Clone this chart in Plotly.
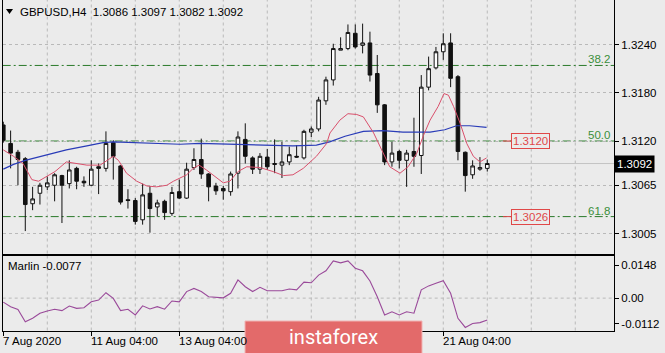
import plotly.graph_objects as go

W, H = 665, 353
BG = "#ebebeb"

# ---------------- data ----------------
bars = list(range(67))
opens = [1.3140, 1.3117, 1.3106, 1.3098, 1.3042, 1.3055, 1.3063, 1.3065, 1.3077, 1.3067,
         1.3086, 1.3070, 1.3065, 1.3088, 1.3086, 1.3118, 1.3089, 1.3047, 1.3046, 1.3022,
         1.3055, 1.3038, 1.3045, 1.3030, 1.3057, 1.3049, 1.3087, 1.3097, 1.3079, 1.3064,
         1.3061, 1.3057, 1.3080, 1.3122, 1.3099, 1.3085, 1.3100, 1.3092, 1.3090, 1.3094,
         1.3101, 1.3099, 1.3131, 1.3135, 1.3170, 1.3196, 1.3233, 1.3235, 1.3254, 1.3239,
         1.3242, 1.3204, 1.3165, 1.3094, 1.3107, 1.3096, 1.3107, 1.3102, 1.3187, 1.3211,
         1.3231, 1.3242, 1.3200, 1.3106, 1.3078, 1.3085, 1.3086]
highs = [1.3144, 1.3133, 1.3109, 1.3100, 1.3063, 1.3068, 1.3076, 1.3080, 1.3078, 1.3096,
         1.3088, 1.3076, 1.3096, 1.3092, 1.3132, 1.3121, 1.3090, 1.3060, 1.3049, 1.3067,
         1.3064, 1.3047, 1.3047, 1.3063, 1.3072, 1.3093, 1.3111, 1.3123, 1.3080, 1.3068,
         1.3064, 1.3082, 1.3132, 1.3142, 1.3101, 1.3105, 1.3110, 1.3122, 1.3119, 1.3113,
         1.3115, 1.3134, 1.3138, 1.3175, 1.3200, 1.3241, 1.3249, 1.3265, 1.3265, 1.3266,
         1.3256, 1.3227, 1.3166, 1.3119, 1.3109, 1.3109, 1.3149, 1.3202, 1.3225, 1.3237,
         1.3254, 1.3254, 1.3202, 1.3107, 1.3096, 1.3100, 1.3097]
lows = [1.3118, 1.3086, 1.3065, 1.3008, 1.3034, 1.3041, 1.3059, 1.3045, 1.3018, 1.3061,
        1.3060, 1.3063, 1.3064, 1.3054, 1.3082, 1.3072, 1.3041, 1.3036, 1.3016, 1.3016,
        1.3006, 1.3026, 1.3022, 1.3027, 1.3048, 1.3048, 1.3084, 1.3073, 1.3045, 1.3053,
        1.3047, 1.3052, 1.3061, 1.3092, 1.3079, 1.3079, 1.3084, 1.3080, 1.3074, 1.3090,
        1.3099, 1.3097, 1.3125, 1.3132, 1.3165, 1.3189, 1.3233, 1.3233, 1.3235, 1.3229,
        1.3194, 1.3155, 1.3090, 1.3088, 1.3086, 1.3063, 1.3088, 1.3079, 1.3183, 1.3209,
        1.3221, 1.3187, 1.3096, 1.3057, 1.3073, 1.3083, 1.3082]
closes = [1.3121, 1.3105, 1.3097, 1.3041, 1.3048, 1.3065, 1.3068, 1.3078, 1.3065, 1.3084,
          1.3070, 1.3068, 1.3085, 1.3086, 1.3117, 1.3101, 1.3044, 1.3046, 1.3020, 1.3053,
          1.3036, 1.3043, 1.3031, 1.3056, 1.3049, 1.3085, 1.3097, 1.3079, 1.3063, 1.3058,
          1.3058, 1.3079, 1.3125, 1.3101, 1.3085, 1.3101, 1.3088, 1.3091, 1.3094, 1.3103,
          1.3100, 1.3132, 1.3135, 1.3171, 1.3196, 1.3235, 1.3235, 1.3255, 1.3237, 1.3242,
          1.3202, 1.3165, 1.3094, 1.3105, 1.3096, 1.3105, 1.3101, 1.3187, 1.3210, 1.3231,
          1.3241, 1.3198, 1.3107, 1.3077, 1.3089, 1.3087, 1.3092]

ma_fast_x = [0, 1.4, 2.7, 3.9, 4.8, 5.9, 7.05, 8.6, 9.8, 11.4, 13.2, 14.1, 15, 15.7, 16.8,
             18.2, 19.6, 20.9, 22.3, 23.2, 25, 25.9, 26.7, 27.7, 28.9, 30, 30.9, 32, 33.2,
             35, 36.8, 38.2, 39.5, 40.9, 42.7, 44.1, 44.55, 45.9, 47, 48.2, 49.1, 50.5,
             51.6, 52.7, 54.1, 55.2, 56.4, 57.3, 58.2, 59.3, 60.1, 60.7, 61.4, 62.3, 63.2,
             64.1, 65, 65.9]
ma_fast_y = [1.3109, 1.3101, 1.3092, 1.3072, 1.3070, 1.3076, 1.3082, 1.3094, 1.3092, 1.3090,
             1.3090, 1.3096, 1.3101, 1.3096, 1.3080, 1.3070, 1.3064, 1.3063, 1.3065, 1.3070,
             1.3078, 1.3086, 1.3090, 1.3084, 1.3076, 1.3068, 1.3070, 1.3082, 1.3088, 1.3087,
             1.3082, 1.3077, 1.3078, 1.3086, 1.3101, 1.3117, 1.3130, 1.3146, 1.3154, 1.3153,
             1.3150, 1.3130, 1.3109, 1.3088, 1.3080, 1.3088, 1.3105, 1.3127, 1.3146, 1.3163,
             1.3179, 1.3177, 1.3163, 1.3142, 1.3117, 1.3101, 1.3094, 1.3099]

ma_slow_x = [0, 1.4, 3, 5.45, 8.6, 11.4, 13.6, 15, 17.7, 20.5, 24.1, 26.8, 30.5, 33.2, 36.4,
             39.5, 42.7, 44.5, 46.6, 49.1, 51.8, 54.5, 58.2, 60.2, 61.8, 63.6, 65.9]
ma_slow_y = [1.3085, 1.3091, 1.3096, 1.3102, 1.3109, 1.3114, 1.3118, 1.3119, 1.3118, 1.3117,
             1.3116, 1.3117, 1.3116, 1.3115, 1.3115, 1.3114, 1.3115, 1.3119, 1.3126, 1.3132,
             1.3133, 1.3131, 1.3131, 1.3134, 1.3139, 1.3139, 1.3137]

marlin = [-0.0014, -0.0030, -0.0040, -0.0083, -0.0071, -0.0053, -0.0045, -0.0039, -0.0044, -0.0028,
          -0.0036, -0.0034, -0.0013, -0.0007, 0.0019, -0.0001, -0.0044, -0.0039, -0.0059, -0.0027,
          -0.0038, -0.0030, -0.0039, -0.0010, -0.0013, 0.0023, 0.0034, 0.0023, 0.0005, 0.0002,
          0.0001, 0.0017, 0.0064, 0.0040, 0.0023, 0.0038, 0.0026, 0.0026, 0.0026, 0.0032,
          0.0029, 0.0056, 0.0054, 0.0081, 0.0096, 0.0131, 0.0124, 0.0131, 0.0105, 0.0096,
          0.0060, 0.0005, -0.0059, -0.0048, -0.0059, -0.0048, -0.0053, 0.0029, 0.0043, 0.0052,
          0.0061, 0.0017, -0.0071, -0.0103, -0.0089, -0.0086, -0.0077]

price_ticks = [1.3005, 1.3065, 1.3120, 1.3180, 1.3240]
fib_levels = [1.3214, 1.3120, 1.3026]
fib_names = ["38.2", "50.0", "61.8"]
tagged_levels = [1.3120, 1.3026]
last_price = 1.3092
date_ticks = [0, 12, 24, 60]
date_labels = ["7 Aug 2020", "11 Aug 04:00", "13 Aug 04:00", "21 Aug 04:00"]
marlin_ticks = [0.01164, 0.0, -0.00909]
marlin_labels = ["0.0148", "0.00", "-0.0112"]
title_text = "GBPUSD,H4\u00a0\u00a01.3086 1.3097 1.3082 1.3092"
marlin_text = "Marlin -0.0077"

# ---------------- layout helpers ----------------
def px(x):
    return x / W

def py(y):
    return 1 - y / H

FONT = "Liberation Sans, Arial, sans-serif"
FS = 11.5
XR = [-0.08, 83.28]
main_dom = [py(253.5), 1.0]
ind_dom = [py(330.5), py(255.5)]
xdom = [px(2.7), px(614)]

fig = go.Figure()
fig.add_trace(go.Candlestick(
    x=bars, open=opens, high=highs, low=lows, close=closes,
    increasing=dict(line=dict(color="#111111", width=1), fillcolor="white"),
    decreasing=dict(line=dict(color="#111111", width=1), fillcolor="#111111"),
    whiskerwidth=0, xaxis="x", yaxis="y", hoverinfo="skip"))
fig.add_trace(go.Scatter(x=ma_slow_x, y=ma_slow_y, mode="lines",
                         line=dict(color="#2a3cb8", width=1.2), xaxis="x", yaxis="y", hoverinfo="skip"))
fig.add_trace(go.Scatter(x=ma_fast_x, y=ma_fast_y, mode="lines",
                         line=dict(color="#d9506c", width=1), xaxis="x", yaxis="y", hoverinfo="skip"))
fig.add_trace(go.Scatter(x=bars, y=marlin, mode="lines",
                         line=dict(color="#9a4a9a", width=1.1), xaxis="x2", yaxis="y2", hoverinfo="skip"))

shapes = []
GRID = "#b9b9b9"
# vertical grid lines every 6 bars, both panels
for g in range(6, 84, 6):
    for yr in ("y domain", "y2 domain"):
        shapes.append(dict(type="line", xref="x" if yr == "y domain" else "x2", yref=yr,
                           x0=g, x1=g, y0=0, y1=1, layer="below",
                           line=dict(color=GRID, width=1, dash="3px,3px")))
# zero line in indicator
shapes.append(dict(type="line", xref="x2 domain", yref="y2", x0=0, x1=1, y0=0, y1=0,
                   layer="below", line=dict(color=GRID, width=1, dash="3px,3px")))
# bid line
shapes.append(dict(type="line", xref="x domain", yref="y", x0=0, x1=1, y0=last_price, y1=last_price,
                   layer="below", line=dict(color="#c4c4c4", width=1)))
# fibonacci levels
for lv in fib_levels:
    shapes.append(dict(type="line", xref="x domain", yref="y", x0=0, x1=1, y0=lv, y1=lv,
                       layer="below", line=dict(color="#2a7a2a", width=1, dash="8px,3px,2px,3px")))
# red tag stubs
for lv in tagged_levels:
    shapes.append(dict(type="line", xref="paper", yref="y", x0=px(503), x1=px(520), y0=lv, y1=lv,
                       layer="above", line=dict(color="#d84545", width=1)))
# title triangle
shapes.append(dict(type="path", xref="paper", yref="paper",
                   path=f"M {px(6)} {py(9)} L {px(13)} {py(9)} L {px(9.5)} {py(14)} Z",
                   fillcolor="black", line=dict(width=0), layer="above"))
# instaforex banner
shapes.append(dict(type="rect", xref="paper", yref="paper", x0=px(245), x1=px(422),
                   y0=py(356), y1=py(321), fillcolor="#e36a6a",
                   line=dict(color="#f1b3b3", width=1), layer="above"))

ann = []
ann.append(dict(text=title_text, xref="paper", yref="paper", x=px(18), y=py(12),
                xanchor="left", yanchor="middle", showarrow=False,
                font=dict(family=FONT, size=FS, color="black")))
ann.append(dict(text=marlin_text, xref="paper", yref="paper", x=px(5.5), y=py(266),
                xanchor="left", yanchor="middle", showarrow=False,
                font=dict(family=FONT, size=FS, color="black")))
for lv, nm in zip(fib_levels, fib_names):
    ann.append(dict(text=nm, xref="paper", yref="y", x=px(612), y=lv, yshift=6,
                    xanchor="right", yanchor="middle", showarrow=False,
                    font=dict(family=FONT, size=FS, color="#3a8f3a")))
for lv in tagged_levels:
    ann.append(dict(text=f"{lv:.4f}", xref="paper", yref="y", x=px(530.5), y=lv,
                    xanchor="center", yanchor="middle", showarrow=False,
                    bgcolor=BG, bordercolor="#e04848", borderwidth=1, borderpad=1,
                    font=dict(family=FONT, size=FS, color="#e04848")))
ann.append(dict(text=f"{last_price:.4f}", xref="paper", yref="y", x=px(614), y=last_price,
                xanchor="left", yanchor="middle", showarrow=False,
                bgcolor="black", borderpad=2,
                font=dict(family=FONT, size=FS, color="white")))
for t, lab in zip(date_ticks, date_labels):
    ann.append(dict(text=lab, xref="x2", yref="paper", x=t, y=py(341), xshift=-2,
                    xanchor="left", yanchor="middle", showarrow=False,
                    font=dict(family=FONT, size=FS, color="black")))
ann.append(dict(text="instaforex", xref="paper", yref="paper", x=px(333.5), y=py(337),
                xanchor="center", yanchor="middle", showarrow=False,
                font=dict(family="Roboto, sans-serif", size=20, color="white")))

line_style = dict(showline=True, linecolor="black", linewidth=1, zeroline=False)

fig.update_layout(
    width=W, height=H, margin=dict(l=0, r=0, t=0, b=0),
    paper_bgcolor=BG, plot_bgcolor=BG, showlegend=False,
    font=dict(family=FONT, size=FS, color="black"),
    # main panel: bottom line only from the x axis (no top frame), sides from y axis
    xaxis=dict(domain=xdom, range=XR, anchor="y", showticklabels=False, ticks="",
               showgrid=False, rangeslider=dict(visible=False), mirror=False, **line_style),
    yaxis=dict(domain=main_dom, range=[1.29801, 1.32954], anchor="x", side="right",
               tickmode="array", tickvals=price_ticks, ticktext=[f"{v:.4f}" for v in price_ticks],
               ticks="outside", ticklen=4, tickcolor="black", mirror=True,
               showgrid=True, gridcolor=GRID, griddash="3px,3px", gridwidth=1,
               tickfont=dict(family=FONT, size=FS, color="black"), **line_style),
    xaxis2=dict(domain=xdom, range=XR, anchor="y2", showticklabels=False,
                tickmode="array", tickvals=date_ticks, ticks="outside", ticklen=4,
                tickcolor="black", showgrid=False, mirror=True, **line_style),
    yaxis2=dict(domain=ind_dom, range=[-0.01138, 0.01498], anchor="x2", side="right",
                tickmode="array", tickvals=marlin_ticks, ticktext=marlin_labels,
                ticks="outside", ticklen=4, tickcolor="black", showgrid=False, mirror=True,
                tickfont=dict(family=FONT, size=FS, color="black"), **line_style),
    shapes=shapes, annotations=ann,
)

fig.write_html("out.html")
